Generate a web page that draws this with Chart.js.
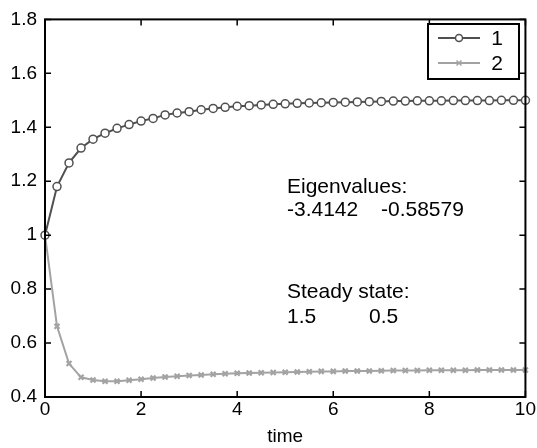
<!DOCTYPE html>
<html lang="en">
<head>
<meta charset="UTF-8">
<title>Eigenvalues</title>
<style>
  html, body { margin: 0; padding: 0; background: #fff; }
  canvas { display: block; }
</style>
</head>
<body>
<canvas id="grafico" width="537" height="448"></canvas>
<script src="https://cdn.jsdelivr.net/npm/chart.js"></script>
<script>
// time steps
const tempo = [0, 0.25, 0.5, 0.75, 1, 1.25, 1.5, 1.75, 2, 2.25, 2.5, 2.75, 3, 3.25, 3.5, 3.75,
  4, 4.25, 4.5, 4.75, 5, 5.25, 5.5, 5.75, 6, 6.25, 6.5, 6.75, 7, 7.25, 7.5, 7.75,
  8, 8.25, 8.5, 8.75, 9, 9.25, 9.5, 9.75, 10];

const serie1 = [1, 1.18, 1.268, 1.323, 1.356, 1.378, 1.396, 1.41, 1.423, 1.433, 1.446, 1.453,
  1.458, 1.465, 1.47, 1.474, 1.478, 1.48, 1.483, 1.485, 1.487, 1.489, 1.49, 1.491,
  1.492, 1.493, 1.494, 1.495, 1.496, 1.497, 1.497, 1.498, 1.498, 1.498, 1.499, 1.499,
  1.499, 1.499, 1.5, 1.5, 1.5];

const serie2 = [1, 0.662, 0.524, 0.473, 0.463, 0.458, 0.458, 0.462, 0.466, 0.47, 0.474, 0.477,
  0.48, 0.482, 0.484, 0.486, 0.488, 0.489, 0.49, 0.491, 0.492, 0.493, 0.494, 0.495,
  0.495, 0.496, 0.496, 0.496, 0.497, 0.498, 0.498, 0.498, 0.499, 0.499, 0.499, 0.499,
  0.5, 0.5, 0.5, 0.5, 0.5];

const legenda = ['1', '2'];
const cores = ['#505050', '#a3a3a3'];
const fonte = '"Liberation Sans", Arial, Helvetica, sans-serif';

// box, inward ticks, text and legend
const extras = {
  id: 'extras',
  afterDraw(chart) {
    const ctx = chart.ctx;
    const a = chart.chartArea;
    const sx = chart.scales.x, sy = chart.scales.y;
    ctx.save();
    ctx.strokeStyle = '#000';
    ctx.lineWidth = 2;
    ctx.strokeRect(a.left, a.top, a.right - a.left, a.bottom - a.top);
    ctx.lineWidth = 1.5;
    ctx.beginPath();
    sx.ticks.forEach(t => {
      const px = sx.getPixelForValue(t.value);
      ctx.moveTo(px, a.bottom); ctx.lineTo(px, a.bottom - 6);
      ctx.moveTo(px, a.top); ctx.lineTo(px, a.top + 6);
    });
    sy.ticks.forEach(t => {
      const py = sy.getPixelForValue(t.value);
      ctx.moveTo(a.left, py); ctx.lineTo(a.left + 6, py);
      ctx.moveTo(a.right, py); ctx.lineTo(a.right - 6, py);
    });
    ctx.stroke();

    // annotations
    ctx.fillStyle = '#000';
    ctx.font = '21px ' + fonte;
    ctx.textAlign = 'left';
    ctx.textBaseline = 'alphabetic';
    ctx.fillText('Eigenvalues:', 287, 193);
    ctx.fillText('-3.4142', 287, 216);
    ctx.fillText('-0.58579', 381, 216);
    ctx.fillText('Steady state:', 287, 298);
    ctx.fillText('1.5', 287, 323);
    ctx.fillText('0.5', 369, 323);

    // legend
    ctx.lineWidth = 2;
    ctx.strokeStyle = '#000';
    ctx.fillStyle = '#fff';
    ctx.fillRect(428, 24, 91, 55);
    ctx.strokeRect(428, 24, 91, 55);
    const ys = [38, 63];
    const estilos = ['circle', 'crossRot'];
    ys.forEach((y, i) => {
      ctx.strokeStyle = cores[i];
      ctx.lineWidth = 2;
      ctx.beginPath();
      ctx.moveTo(438, y); ctx.lineTo(480, y);
      ctx.stroke();
      ctx.lineWidth = 1.5;
      ctx.fillStyle = '#fff';
      Chart.helpers.drawPoint(ctx, { pointStyle: estilos[i], radius: 3.5, borderWidth: 1.5 }, 459, y);
      ctx.fillStyle = '#000';
      ctx.textAlign = 'center';
      ctx.textBaseline = 'middle';
      ctx.fillText(legenda[i], 497, y + 1);
    });
    ctx.restore();
  }
};

new Chart(document.getElementById('grafico'), {
  type: 'line',
  data: {
    labels: tempo,
    datasets: [{
      label: legenda[0],
      data: tempo.map((t, i) => ({ x: t, y: serie1[i] })),
      borderColor: cores[0],
      backgroundColor: '#fff',
      borderWidth: 2,
      pointStyle: 'circle',
      pointRadius: 4,
      pointBorderWidth: 1.5,
      clip: false
    }, {
      label: legenda[1],
      data: tempo.map((t, i) => ({ x: t, y: serie2[i] })),
      borderColor: cores[1],
      backgroundColor: cores[1],
      borderWidth: 2,
      pointStyle: 'crossRot',
      pointRadius: 3.5,
      pointBorderWidth: 2.2,
      clip: false
    }]
  },
  options: {
    responsive: false,
    animation: false,
    layout: { padding: { top: 16, right: 10, left: 0, bottom: 0 } },
    plugins: { legend: { display: false }, tooltip: { enabled: false } },
    scales: {
      x: {
        type: 'linear',
        min: 0, max: 10,
        grid: { display: false, drawTicks: false },
        border: { display: false },
        ticks: { stepSize: 2, color: '#000', padding: 1, font: { family: fonte, size: 19 } },
        title: { display: true, text: 'time', color: '#000', padding: { top: 3, bottom: 0 }, font: { family: fonte, size: 19 } },
        afterFit(scale) { scale.height = 51; }
      },
      y: {
        min: 0.4, max: 1.8,
        grid: { display: false, drawTicks: false },
        border: { display: false },
        ticks: {
          stepSize: 0.2, color: '#000', padding: 8,
          font: { family: fonte, size: 19 },
          callback: v => String(Number(v.toFixed(1)))
        },
        afterFit(scale) { scale.width = 45; }
      }
    }
  },
  plugins: [extras]
});
</script>
</body>
</html>
